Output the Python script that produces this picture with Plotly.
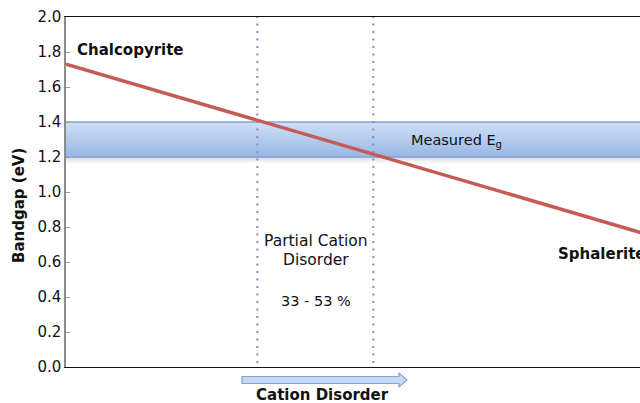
import plotly.graph_objects as go

# Bandgap vs. cation disorder (0 % = chalcopyrite, 100 % = sphalerite)
disorder_pct = [0, 100]
bandgap_ev = [1.73, 0.76]

# Measured bandgap window and the partial-disorder interval it implies
measured_eg = [1.2, 1.4]
disorder_bounds = [33, 53]

y_ticks = [0.0, 0.2, 0.4, 0.6, 0.8, 1.0, 1.2, 1.4, 1.6, 1.8, 2.0]

W, H = 640, 403
ML, MR, MT, MB = 66, 0, 17, 36
X_RANGE = [0, 99]
Y_RANGE = [0, 2.0]


def px_x(p):
    return (p - ML) / (W - ML - MR)


def px_y(p):
    return (H - MB - p) / (H - MT - MB)


FONT = "DejaVu Sans"

fig = go.Figure()

# Soft shadow underneath the measured band
fig.add_trace(go.Scatter(
    x=[X_RANGE[0], X_RANGE[1], X_RANGE[1], X_RANGE[0], X_RANGE[0]],
    y=[measured_eg[0], measured_eg[0], measured_eg[0] - 0.05,
       measured_eg[0] - 0.05, measured_eg[0]],
    fill="toself",
    fillgradient=dict(type="vertical",
                      colorscale=[[0, "rgba(255,255,255,0)"],
                                  [1, "rgba(170,170,170,0.55)"]]),
    line=dict(width=0), mode="lines", hoverinfo="skip", showlegend=False,
))

# Measured bandgap band with a vertical blue gradient
fig.add_trace(go.Scatter(
    x=[X_RANGE[0], X_RANGE[1], X_RANGE[1], X_RANGE[0], X_RANGE[0]],
    y=[measured_eg[0], measured_eg[0], measured_eg[1], measured_eg[1],
       measured_eg[0]],
    fill="toself",
    fillgradient=dict(type="vertical",
                      colorscale=[[0, "#98b6e2"], [1, "#cfe0f8"]]),
    line=dict(width=0), mode="lines", hoverinfo="skip", showlegend=False,
))
for yv in measured_eg:
    fig.add_trace(go.Scatter(
        x=X_RANGE, y=[yv, yv], mode="lines",
        line=dict(color="#7ea6dc", width=1.5),
        hoverinfo="skip", showlegend=False,
    ))

# Boundaries of the partial-disorder interval
for xv in disorder_bounds:
    fig.add_trace(go.Scatter(
        x=[xv, xv], y=[Y_RANGE[0] - 0.02, Y_RANGE[1]], mode="lines",
        line=dict(color="#9a82c4", width=2, dash="2px,5.5px"),
        hoverinfo="skip", showlegend=False, cliponaxis=False,
    ))

# Bandgap trend line
fig.add_trace(go.Scatter(
    x=disorder_pct, y=bandgap_ev, mode="lines",
    line=dict(color="#c65a55", width=3.5),
    hoverinfo="skip", showlegend=False,
))

# Block arrow below the axis indicating increasing disorder
ax0, ax1, axh = px_x(242), px_x(407), px_x(399)
s_top, s_bot = px_y(376.5), px_y(383.5)
h_top, h_bot = px_y(373), px_y(387)
s_mid = px_y(380)
arrow_path = (f"M {ax0},{s_top} L {axh},{s_top} L {axh},{h_top} "
              f"L {ax1},{s_mid} L {axh},{h_bot} L {axh},{s_bot} "
              f"L {ax0},{s_bot} Z")
fig.add_shape(type="path", path=arrow_path, xref="paper", yref="paper",
              fillcolor="#c5d9f1", line=dict(color="#7ea6dc", width=1.2),
              layer="above")

annotations = [
    dict(text="<b>Chalcopyrite</b>", x=px_x(75), y=px_y(50),
         xanchor="left", yanchor="middle", font=dict(size=15)),
    dict(text="<b>Sphalerite</b>", x=px_x(556), y=px_y(254),
         xanchor="left", yanchor="middle", font=dict(size=15)),
    dict(text="Measured E<sub>g</sub>", x=px_x(409), y=px_y(141),
         xanchor="left", yanchor="middle", font=dict(size=14.5)),
    dict(text="Partial Cation", x=px_x(316), y=px_y(241),
         xanchor="center", yanchor="middle", font=dict(size=15.5)),
    dict(text="Disorder", x=px_x(316), y=px_y(260),
         xanchor="center", yanchor="middle", font=dict(size=15.5)),
    dict(text=f"{disorder_bounds[0]} - {disorder_bounds[1]} %",
         x=px_x(316), y=px_y(301),
         xanchor="center", yanchor="middle", font=dict(size=14.5)),
    dict(text="<b>Cation Disorder</b>", x=px_x(322), y=px_y(395),
         xanchor="center", yanchor="middle", font=dict(size=15)),
    dict(text="<b>Bandgap (eV)</b>", x=px_x(19), y=px_y(206),
         xanchor="center", yanchor="middle", textangle=-90,
         font=dict(size=15)),
]
for a in annotations:
    a.update(xref="paper", yref="paper", showarrow=False)
    a["font"].update(family=FONT, color="#111111")

fig.update_layout(
    width=W, height=H,
    margin=dict(l=ML, r=MR, t=MT, b=MB, pad=0),
    paper_bgcolor="white", plot_bgcolor="white",
    annotations=annotations,
    font=dict(family=FONT, size=15, color="#111111"),
    xaxis=dict(range=X_RANGE, showgrid=False, zeroline=False,
               showticklabels=False, ticks="",
               showline=True, linecolor="#111111", linewidth=1.3,
               mirror=True, fixedrange=True),
    yaxis=dict(range=Y_RANGE, showgrid=False, zeroline=False,
               tickvals=y_ticks, ticktext=[f"{v:.1f}" for v in y_ticks],
               ticks="inside", ticklen=4, tickcolor="#999999",
               tickwidth=1,
               showline=True, linecolor="#8c8c8c", linewidth=1.5,
               tickfont=dict(family=FONT, size=15, color="#111111"),
               fixedrange=True),
)

fig.write_html("out.html")
